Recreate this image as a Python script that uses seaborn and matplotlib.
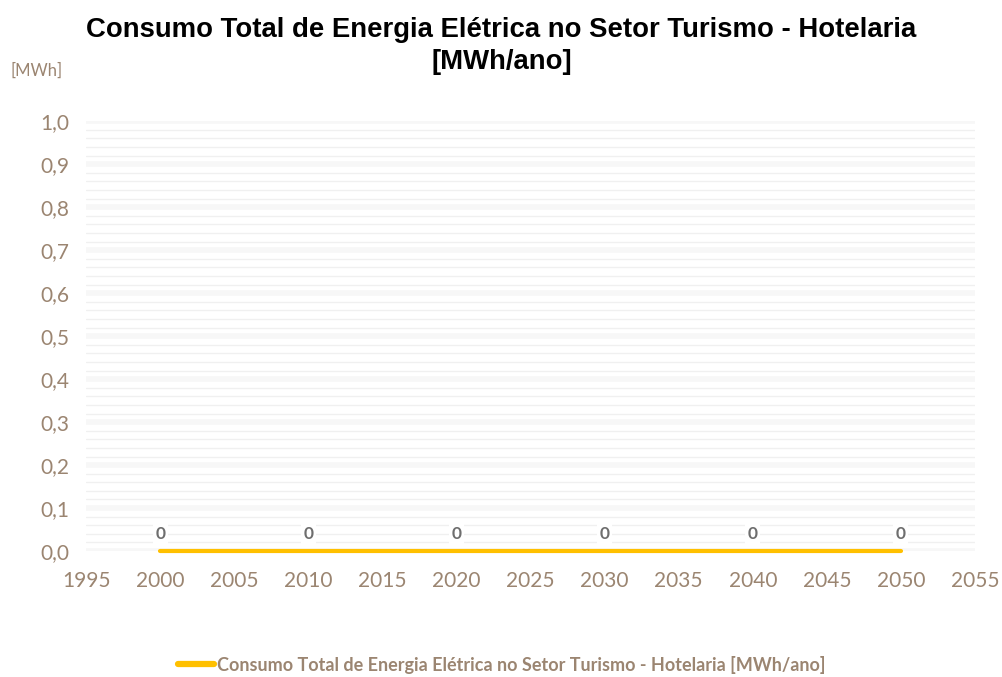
import matplotlib
matplotlib.use("Agg")
import matplotlib.pyplot as plt
import matplotlib.ticker as mticker
import seaborn as sns
import pandas as pd

years = [2000, 2010, 2020, 2030, 2040, 2050]
consumo = [0, 0, 0, 0, 0, 0]
serie = "Consumo Total de Energia Elétrica no Setor Turismo - Hotelaria [MWh/ano]"
titulo = "Consumo Total de Energia Elétrica no Setor Turismo - Hotelaria\n[MWh/ano]"

df = pd.DataFrame({"ano": years, "valor": consumo, "serie": serie})

sns.set_style("white")
plt.rcParams["font.family"] = ["Lato", "DejaVu Sans"]

brown = "#9b8571"
yellow = "#FFC000"

fig = plt.figure(figsize=(10.03, 6.77), dpi=100)
ax = fig.add_axes([0.086, 0.186, 0.886, 0.635])

sns.lineplot(data=df, x="ano", y="valor", hue="serie", palette=[yellow],
             linewidth=3.0, ax=ax, legend=False, solid_capstyle="round")
for ln in ax.lines:
    ln.set_clip_on(False)
    ln.set_zorder(3)

for x, v in zip(years, consumo):
    ax.annotate(f"{v:d}", (x, v), xytext=(0, 12), textcoords="offset points",
                ha="center", va="center", fontsize=12.5, fontweight="bold",
                color="#6e6e6e",
                bbox=dict(boxstyle="square,pad=0.15", fc="white", ec="none"))

ax.set_xlim(1995, 2055)
ax.set_ylim(0, 1.0)
ax.xaxis.set_major_locator(mticker.MultipleLocator(5))
ax.yaxis.set_major_locator(mticker.MultipleLocator(0.1))
ax.yaxis.set_minor_locator(mticker.MultipleLocator(0.02))
ax.yaxis.set_major_formatter(mticker.FuncFormatter(lambda v, p: f"{v:.1f}".replace(".", ",")))
ax.grid(axis="y", which="major", color="#f7f7f7", linewidth=4, zorder=0)
ax.grid(axis="y", which="minor", color="#f0f0f0", linewidth=1, zorder=0)
ax.set_axisbelow(True)
for s in ax.spines.values():
    s.set_visible(False)
ax.tick_params(axis="both", which="both", length=0, labelsize=15, labelcolor=brown)
ax.tick_params(axis="x", pad=14)
ax.tick_params(axis="y", pad=12)
ax.set_xlabel("")
ax.set_ylabel("")

fig.text(0.5, 0.975, titulo, ha="center", va="top", fontsize=19.8, fontweight="bold",
         family=["Liberation Sans", "DejaVu Sans"], color="black", linespacing=1.3)
fig.text(0.010, 0.896, "[MWh]", ha="left", va="center", fontsize=12, color=brown)

handle = plt.Line2D([], [], color=yellow, linewidth=4.5, solid_capstyle="round")
fig.legend([handle], [serie], loc="center", bbox_to_anchor=(0.5, 0.018), frameon=False,
           handlelength=2.0, handletextpad=0.15,
           prop={"size": 13, "weight": "bold"}, labelcolor=brown)

fig.savefig("out.png", dpi=100, facecolor="white")
